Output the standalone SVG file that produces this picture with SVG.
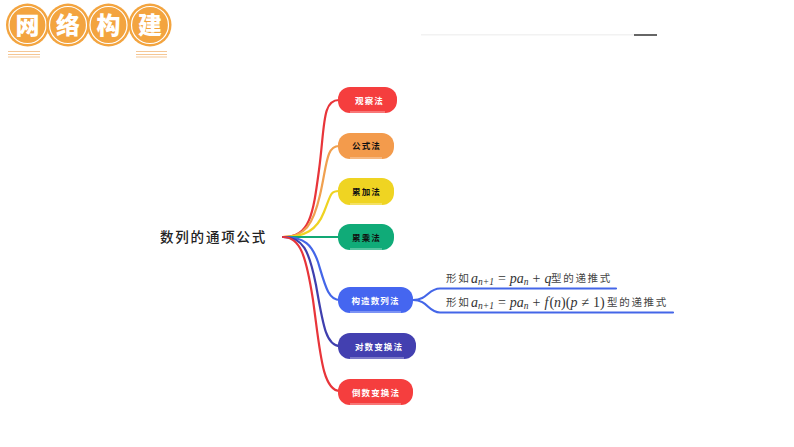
<svg xmlns="http://www.w3.org/2000/svg" width="794" height="447" viewBox="0 0 794 447">
<style>
.cjk{font-family:"Noto Sans CJK SC","Liberation Sans",sans-serif}
.n{font-size:8.5px;font-weight:700;text-anchor:middle;letter-spacing:1.100px}
.w{fill:#fff}.k{fill:#111}
.h{fill:#f3a43f;stroke:#fff;stroke-width:1.200}
.ho{fill:#f3a43f}
.ht{font-size:24px;font-weight:900;fill:#fff;text-anchor:middle}
.c{fill:none;stroke-width:2.2;stroke-linecap:round}
.m{font-family:"Liberation Serif",serif;font-style:italic;font-size:14px;fill:#333}
.l{font-size:10.5px;fill:#444;letter-spacing:1.700px}
.s{font-size:9.500px}
.r{font-family:"Liberation Serif",serif;font-style:normal}
.sh{fill:none;stroke:#fff;stroke-opacity:.75;stroke-width:.8}
</style>
<rect width="794" height="447" fill="#fff"/>
<g id="banner">
<g id="b1"><circle class="ho" cx="27.500" cy="25" r="21.500"/><circle class="h" cx="27.500" cy="25" r="18.500"/><text class="cjk ht" x="27.500" y="34">网</text></g>
<g id="b2"><circle class="ho" cx="68" cy="25" r="21.500"/><circle class="h" cx="68" cy="25" r="18.500"/><text class="cjk ht" x="68" y="34">络</text></g>
<g id="b3"><circle class="ho" cx="108.500" cy="25" r="21.500"/><circle class="h" cx="108.500" cy="25" r="18.500"/><text class="cjk ht" x="108.500" y="34">构</text></g>
<g id="b4"><circle class="ho" cx="150" cy="25" r="21.500"/><circle class="h" cx="150" cy="25" r="18.500"/><text class="cjk ht" x="150" y="34">建</text></g>
<path d="M8 51.500H40M8 54.500H40M8 57H40M136 51.500H167M136 54.500H167M136 57H167" stroke="#f5c795" stroke-width="1.200" fill="none"/>
</g>
<g id="topbar">
<rect x="421" y="34" width="213" height="1.500" fill="#f2f2f2"/>
<rect x="634" y="34" width="23" height="2" fill="#666"/>
</g>
<g id="connectors">
<path class="c" stroke="#e8353a" stroke-width="2.600" d="M283 237C310 237 313 215 319 170C325 125 322 100 339 100"/>
<path class="c" stroke="#f0a04f" d="M283 237C305 237 313 225 320 195C327 165 326 146 339 146"/>
<path class="c" stroke="#efd321" d="M283 237C305 237 317 230 324 212C331 195 330 191 339 191"/>
<path class="c" stroke="#12a874" d="M283 237H339"/>
<path class="c" stroke="#4466e8" d="M283 237C305 237 312 245 318 262C325 285 328 300 340 300"/>
<path class="c" stroke="#3f3fae" d="M283 237C303 237 309 250 316 285C323 325 326 346 340 346"/>
<path class="c" stroke="#e8353a" d="M283 237C300 237 306 255 313 300C320 350 322 391 340 391"/>
<path class="c" stroke="#4466e8" d="M413 300C428 300 428 288.500 440 288.500H616"/>
<path class="c" stroke="#4466e8" d="M413 300C428 300 428 312.500 440 312.500H673"/>
</g>
<g id="root"><text class="cjk" x="160" y="242" font-size="13.500" font-weight="500" letter-spacing="1.800" fill="#222">数列的通项公式</text></g>
<g id="n1"><rect x="338" y="87" width="59" height="26" rx="12" fill="#f53e3e"/><path class="sh" d="M350 112H385"/><text class="cjk n w" x="369.500" y="104">观察法</text></g>
<g id="n2"><rect x="338" y="133" width="56" height="26" rx="12" fill="#f39b4c"/><path class="sh" d="M350 158H382"/><text class="cjk n k" x="366.500" y="149">公式法</text></g>
<g id="n3"><rect x="338" y="178" width="56" height="27" rx="12" fill="#efd422"/><path class="sh" d="M350 204H382"/><text class="cjk n k" x="366.500" y="195">累加法</text></g>
<g id="n4"><rect x="338" y="224" width="56" height="26" rx="12" fill="#10ab78"/><path class="sh" d="M350 249H382"/><text class="cjk n k" x="366.500" y="241">累乘法</text></g>
<g id="n5"><rect x="338" y="287" width="75" height="26" rx="12" fill="#4566f0"/><path class="sh" d="M350 312H401"/><text class="cjk n w" x="375.500" y="304">构造数列法</text></g>
<g id="n6"><rect x="338" y="333" width="78" height="26" rx="12" fill="#4340b0"/><path class="sh" d="M350 358H404"/><text class="cjk n w" x="379" y="350">对数变换法</text></g>
<g id="n7"><rect x="338" y="379" width="75" height="26" rx="12" fill="#f53e3e"/><path class="sh" d="M350 404H401"/><text class="cjk n w" x="376" y="396">倒数变换法</text></g>
<g id="leaf1">
<text class="cjk l" x="446" y="282">形如</text>
<text class="m" x="471" y="283">a<tspan class="s" dy="2">n+1</tspan><tspan class="r" dy="-2" dx="4">=</tspan><tspan dx="4">pa</tspan><tspan class="s" dy="2">n</tspan><tspan class="r" dy="-2" dx="4">+</tspan><tspan dx="4">q</tspan></text>
<text class="cjk l" x="551" y="282">型的递推式</text>
</g>
<g id="leaf2">
<text class="cjk l" x="446" y="306">形如</text>
<text class="m" x="471" y="307">a<tspan class="s" dy="2">n+1</tspan><tspan class="r" dy="-2" dx="4">=</tspan><tspan dx="4">pa</tspan><tspan class="s" dy="2">n</tspan><tspan class="r" dy="-2" dx="4">+</tspan><tspan dx="4">f</tspan><tspan class="r" dx="1">(</tspan>n<tspan class="r">)(</tspan>p<tspan class="r" dx="4">≠</tspan><tspan class="r" dx="4">1)</tspan></text>
<text class="cjk l" x="607" y="306">型的递推式</text>
</g>
</svg>
